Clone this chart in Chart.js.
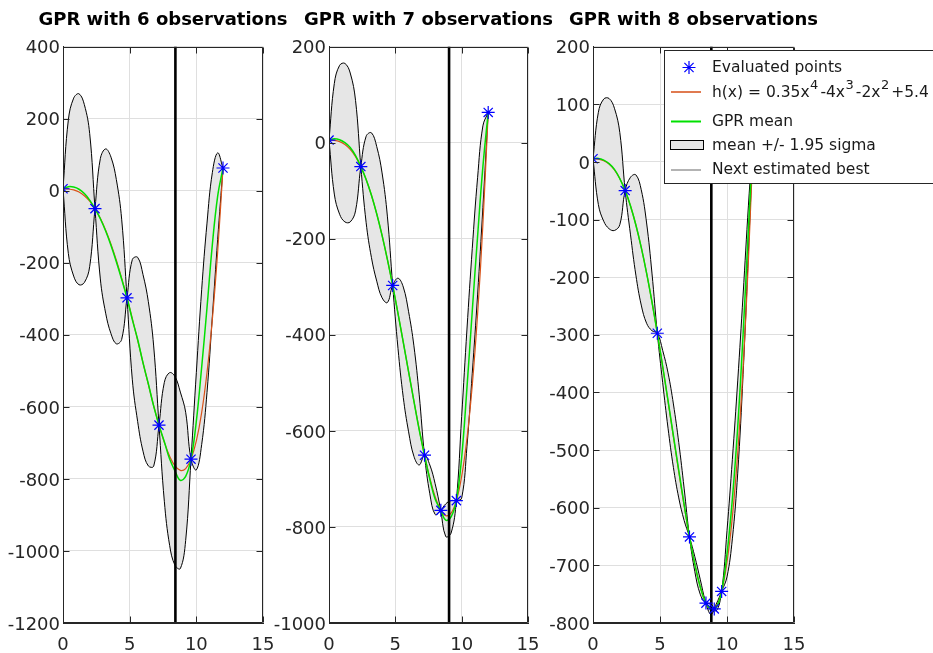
<!DOCTYPE html>
<html>
<head>
<meta charset="utf-8">
<title>GPR steps</title>
<script src="https://cdn.jsdelivr.net/npm/chart.js@4.4.1/dist/chart.umd.min.js"></script>
<style>
  html, body { margin: 0; padding: 0; background: #fff; }
  body { position: relative; width: 933px; height: 653px; overflow: hidden; }
  canvas { position: absolute; top: 0; }
</style>
</head>
<body>
<canvas id="gpr6" width="326" height="653" style="left:0px"></canvas>
<canvas id="gpr7" width="317" height="653" style="left:270px"></canvas>
<canvas id="gpr8" width="479" height="653" style="left:454px"></canvas>
<script>
// sampling grid shared by every curve
const xs = [0, 0.4, 0.8, 1.2, 1.6, 2, 2.4, 2.8, 3.2, 3.6, 4, 4.4, 4.8, 5.2, 5.6, 6,
            6.4, 6.8, 7.2, 7.6, 8, 8.4, 8.8, 9.2, 9.6, 10, 10.4, 10.8, 11.2, 11.6, 12];

// h(x) = 0.35x^4-4x^3-2x^2+5.4
const hVals = [5.4, 4.8, 2.2, -3.7, -13.8, -29, -49.8, -76.6, -109.5, -148.4, -193, -242.9,
               -297.3, -355.2, -415.6, -477, -537.9, -596.5, -650.7, -698.3, -737, -764,
               -776.4, -771.3, -745.2, -694.6, -615.9, -505, -357.9, -170.1, 63];

// evaluated points for each step
const obsX6 = [0, 2.4, 4.8, 7.2, 9.6, 12];
const obsY6 = [5.4, -49.8, -297.3, -650.7, -745.2, 63];
const obsX7 = [0, 2.4, 4.8, 7.2, 8.43, 9.6, 12];
const obsY7 = [5.4, -49.8, -297.3, -650.7, -765.5, -745.2, 63];
const obsX8 = [0, 2.4, 4.8, 7.2, 8.43, 9.05, 9.6, 12];
const obsY8 = [5.4, -49.8, -297.3, -650.7, -765.5, -775.5, -745.2, 63];

// GPR mean
const mean6 = [5.4, 11, 10, 4, -8, -26, -49.8, -78, -112, -152, -197, -246, -297.3, -358,
               -413, -478, -536, -598, -650.7, -697, -745, -778, -804, -793, -745.2, -640,
               -490, -325, -150, -15, 63];
const mean7 = [5.4, 8, 6, 0, -10, -27, -49.8, -76.6, -109.5, -148.4, -193, -242.9, -297.3,
               -355.2, -415.6, -477, -538, -598, -650.7, -701, -742, -764, -786, -779, -745.2,
               -655, -510, -350, -195, -50, 63];
const mean8 = [5.4, 6, 3, -3, -13, -29, -49.8, -76.6, -109.5, -148.4, -193, -242.9, -297.3,
               -355, -414, -475, -535, -594, -650.7, -698, -737, -764, -776, -773, -745.2,
               -680, -585, -460, -300, -115, 63];

// 1.95 sigma, sign flipped on every other interval so the two edges cross at each observation
const band6 = [0, 185, 247, 265, 247, 185, 0, -167, -228, -245, -228, -167, 0, 167, 228, 245, 228,
               167, 0, -165, -240, -262, -245, -178, 0, 135, 215, 235, 200, 120, 0];
const band7 = [0, 115, 155, 165, 155, 115, 0, -90, -130, -140, -130, -90, 0, 73, 115, 125, 115, 73,
               0, -30, -32, -2, 34, 34, 0, -85, -122, -130, -122, -85, 0];
const band8 = [0, 80, 106, 113, 106, 80, 0, -50, -87, -100, -87, -50, 0, 28, 48, 55, 48, 28,
               0, -13, -13, -1, 9, -6, 0, 40, 69, 80, 69, 40, 0];

const nextBest = [8.43, 9.05, 8.83];
const titles = ['GPR with 6 observations', 'GPR with 7 observations', 'GPR with 8 observations'];
const yLimits = [[-1200, 400, 200], [-1000, 200, 200], [-800, 200, 100]];
const xLimits = [0, 15, 5];

const FONT = 'DejaVu Sans';
const AXIS = '#262626';
const ORANGE = '#d95319';
const GREEN = '#00e000';
const FILL = '#e6e6e6';

const pts = (xv, yv) => xv.map((x, i) => ({ x: x, y: yv[i] }));

// full box with inward ticks on all four sides, plus the panel title
const boxAxes = {
  id: 'boxAxes',
  afterDatasetsDraw(chart, args, opts) {
    const { ctx, chartArea: a, scales } = chart;
    const L = Math.round(a.left) + 0.5, R = Math.round(a.right) - 0.5;
    const T = Math.round(a.top) + 0.5, B = Math.round(a.bottom) - 0.5;
    ctx.save();
    ctx.strokeStyle = AXIS;
    ctx.lineWidth = 1;
    ctx.beginPath();
    ctx.moveTo(L, T); ctx.lineTo(R, T); ctx.lineTo(R, B); ctx.lineTo(L, B); ctx.closePath();
    scales.x.ticks.forEach(t => {
      const px = Math.round(scales.x.getPixelForValue(t.value)) + 0.5;
      ctx.moveTo(px, B); ctx.lineTo(px, B - 6);
      ctx.moveTo(px, T); ctx.lineTo(px, T + 6);
    });
    scales.y.ticks.forEach(t => {
      const py = Math.round(scales.y.getPixelForValue(t.value)) + 0.5;
      ctx.moveTo(L, py); ctx.lineTo(L + 6, py);
      ctx.moveTo(R, py); ctx.lineTo(R - 6, py);
    });
    ctx.stroke();

    // title centred over the axes box
    ctx.fillStyle = '#000';
    ctx.font = 'bold 18px "' + FONT + '"';
    ctx.textAlign = 'center';
    ctx.textBaseline = 'middle';
    ctx.fillText(opts.text, (a.left + a.right) / 2, 20);
    ctx.restore();
  }
};

// legend box in the last panel
const legendBox = {
  id: 'legendBox',
  afterDraw(chart) {
    const ctx = chart.ctx;
    const x0 = 210.5, y0 = 50.5;
    const lx1 = 217, lx2 = 247, tx = 258;
    ctx.save();
    ctx.fillStyle = '#fff';
    ctx.strokeStyle = AXIS;
    ctx.lineWidth = 1;
    ctx.fillRect(x0, y0, chart.width, 133);
    ctx.strokeRect(x0, y0, chart.width + 10, 133);

    // star marker
    ctx.strokeStyle = '#0000ff';
    ctx.lineWidth = 1.2;
    Chart.helpers.drawPoint(ctx, { pointStyle: 'star', radius: 6.5, borderWidth: 1.2, rotation: 0 }, 235, 67.5);

    const seg = (y, color, w) => {
      ctx.strokeStyle = color;
      ctx.lineWidth = w;
      ctx.beginPath();
      ctx.moveTo(lx1, y); ctx.lineTo(lx2, y);
      ctx.stroke();
    };
    seg(92, '#e07a50', 2);
    seg(121.5, GREEN, 2);
    seg(170, '#9a9a9a', 1.5);

    ctx.fillStyle = FILL;
    ctx.strokeStyle = '#000';
    ctx.lineWidth = 1;
    ctx.fillRect(216.5, 140.5, 33, 9);
    ctx.strokeRect(216.5, 140.5, 33, 9);

    ctx.fillStyle = '#1a1a1a';
    ctx.textBaseline = 'middle';
    ctx.textAlign = 'left';
    const big = '15.5px "' + FONT + '"', small = '13px "' + FONT + '"';
    ctx.font = big;
    ctx.fillText('Evaluated points', tx, 68);
    ctx.fillText('GPR mean', tx, 122);
    ctx.fillText('mean +/- 1.95 sigma', tx, 146);
    ctx.fillText('Next estimated best', tx, 170);

    // h(x) label with superscript powers
    const parts = [['h(x) = 0.35x', 0], ['4', 1], ['-4x', 0], ['3', 1], ['-2x', 0], ['2', 1], ['+5.4', 0]];
    let cx = tx;
    parts.forEach(([s, sup]) => {
      ctx.font = sup ? small : big;
      ctx.fillText(s, cx, sup ? 86 : 93);
      cx += ctx.measureText(s).width + (sup ? 2 : 0.5);
    });
    ctx.restore();
  }
};

function makePanel(id, k, obsX, obsY, mean, band, axisW, padRight, extra) {
  const [yMin, yMax, yStep] = yLimits[k];
  const edgeA = mean.map((m, i) => m + band[i]);
  const edgeB = mean.map((m, i) => m - band[i]);
  const nb = nextBest[k];
  const plugins = [boxAxes];
  if (extra) plugins.push(extra);

  return new Chart(document.getElementById(id), {
    type: 'line',
    data: {
      datasets: [
        {
          label: 'Evaluated points',
          data: pts(obsX, obsY),
          showLine: false,
          pointStyle: 'star',
          pointRadius: 6.5,
          pointBorderColor: '#0000ff',
          pointBackgroundColor: '#0000ff',
          pointBorderWidth: 1.2
        },
        {
          label: 'Next estimated best',
          data: [{ x: nb, y: yMin }, { x: nb, y: yMax }],
          borderColor: '#000',
          borderWidth: 2.6,
          pointRadius: 0
        },
        {
          label: 'GPR mean',
          data: pts(xs, mean),
          borderColor: GREEN,
          borderWidth: 1.5,
          pointRadius: 0,
          tension: 0.4
        },
        {
          label: 'h(x)',
          data: pts(xs, hVals),
          borderColor: ORANGE,
          borderWidth: 1.2,
          pointRadius: 0,
          tension: 0.4
        },
        {
          label: 'band edge A',
          data: pts(xs, edgeA),
          borderColor: '#000',
          borderWidth: 1,
          pointRadius: 0,
          tension: 0.4,
          fill: '+1',
          backgroundColor: FILL
        },
        {
          label: 'band edge B',
          data: pts(xs, edgeB),
          borderColor: '#000',
          borderWidth: 1,
          pointRadius: 0,
          tension: 0.4
        }
      ]
    },
    options: {
      responsive: false,
      animation: false,
      devicePixelRatio: 1,
      events: [],
      layout: { padding: { left: 0, right: padRight, top: 46.6, bottom: 0 } },
      plugins: {
        legend: { display: false },
        tooltip: { enabled: false },
        title: { display: false },
        filler: { drawTime: 'beforeDatasetsDraw' },
        boxAxes: { text: titles[k] }
      },
      scales: {
        x: {
          type: 'linear',
          min: xLimits[0],
          max: xLimits[1],
          ticks: {
            stepSize: xLimits[2], color: AXIS, padding: 12,
            font: { family: FONT, size: 18 },
            callback: v => String(v)
          },
          grid: { color: '#dfdfdf', drawTicks: false },
          border: { color: AXIS, width: 1 },
          afterFit: s => { s.height = 30; }
        },
        y: {
          type: 'linear',
          min: yMin,
          max: yMax,
          ticks: {
            stepSize: yStep, color: AXIS, padding: 3, labelOffset: 2,
            font: { family: FONT, size: 18 },
            callback: v => String(v)
          },
          grid: { color: '#dfdfdf', drawTicks: false },
          border: { color: AXIS, width: 1 },
          afterFit: s => { s.width = axisW; }
        }
      }
    },
    plugins: plugins
  });
}

makePanel('gpr6', 0, obsX6, obsY6, mean6, band6, 63, 63, null);
makePanel('gpr7', 1, obsX7, obsY7, mean7, band7, 59, 59, null);
makePanel('gpr8', 2, obsX8, obsY8, mean8, band8, 139, 139, legendBox);
</script>
</body>
</html>
